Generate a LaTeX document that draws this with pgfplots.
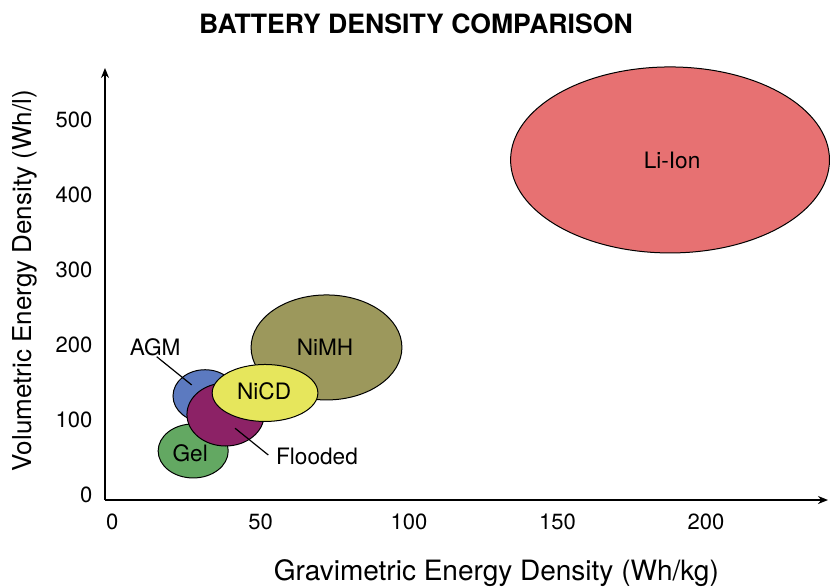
\documentclass[border=0pt]{standalone}
\usepackage{fontspec}
\setmainfont{TeX Gyre Heros}
\usepackage{pgfplots}
\usepackage{pgfplotstable}
\pgfplotsset{compat=1.18}
\usetikzlibrary{arrows.meta}

\definecolor{liion}{RGB}{231,113,114}
\definecolor{nimh}{RGB}{156,152,92}
\definecolor{nicd}{RGB}{230,230,92}
\definecolor{agm}{RGB}{92,122,192}
\definecolor{flooded}{RGB}{140,34,102}
\definecolor{gel}{RGB}{99,168,98}

% centre (cx,cy), half-widths (rx,ry), label position (lx,ly)
\pgfplotstableread{
name    cx    cy    rx   ry   col     lx    ly
Li-Ion  187.9 446.7 53.7 124  liion   188.6 446.7
NiMH    72.2  196.7 25.4 70   nimh    71.7  197
Gel     27.3  58.7  11.8 36   gel     26.3  55
AGM     31.3  132   10.8 35   agm     14.5  197
Flooded 38.2  107.3 13   42   flooded 69    51
NiCD    51.5  136   17.8 38   nicd    51.2  138.7
}\batteries

\begin{document}
\begin{tikzpicture}
\begin{axis}[
  scale only axis,
  width=361.5pt, height=216pt,
  xmin=-2.4, xmax=241.1,
  ymin=-6.7, ymax=569.3,
  axis lines=left,
  axis line style={line width=1pt, -{Stealth[length=5pt,width=4pt]}},
  xtick={0,50,100,150,200},
  ytick={0,100,200,300,400,500},
  major tick length=0pt,
  tick style={draw=none},
  tick label style={font=\fontsize{11}{13}\selectfont},
  /pgf/number format/assume math mode=true,
  xticklabel style={yshift=-3.5pt},
  yticklabel style={xshift=-2.8pt},
  clip=false,
  title={\textbf{BATTERY DENSITY COMPARISON}},
  every axis title/.style={font=\fontsize{13.3}{15}\selectfont, at={(axis description cs:0.430,1.102)}, anchor=center},
  xlabel={Gravimetric Energy Density (Wh/kg)},
  xlabel style={font=\fontsize{14}{16}\selectfont, at={(axis description cs:0.5413,-0.169)}, anchor=center},
  ylabel={Volumetric Energy Density (Wh/l)},
  ylabel style={font=\fontsize{13}{15}\selectfont, at={(axis description cs:-0.1107,0.508)}, anchor=center},
]
\pgfplotsforeachungrouped \i in {0,...,5}{%
  \pgfplotstablegetelem{\i}{cx}\of\batteries \let\cx\pgfplotsretval
  \pgfplotstablegetelem{\i}{cy}\of\batteries \let\cy\pgfplotsretval
  \pgfplotstablegetelem{\i}{rx}\of\batteries \let\rx\pgfplotsretval
  \pgfplotstablegetelem{\i}{ry}\of\batteries \let\ry\pgfplotsretval
  \pgfplotstablegetelem{\i}{col}\of\batteries \let\col\pgfplotsretval
  \edef\next{\noexpand\draw[fill=\col, draw=black, line width=0.5pt]
    (axis cs:\cx,\cy) ellipse [x radius=\rx, y radius=\ry];}%
  \next
}
% leader lines
\draw[line width=0.6pt] (axis cs:15.0,184.4) -- (axis cs:26.8,146.7);
\draw[line width=0.6pt] (axis cs:41.4,89) -- (axis cs:52.6,53.3);
\pgfplotsforeachungrouped \i in {0,...,5}{%
  \pgfplotstablegetelem{\i}{name}\of\batteries \let\nm\pgfplotsretval
  \pgfplotstablegetelem{\i}{lx}\of\batteries \let\lx\pgfplotsretval
  \pgfplotstablegetelem{\i}{ly}\of\batteries \let\ly\pgfplotsretval
  \edef\next{\noexpand\node[font=\noexpand\fontsize{11.3}{13}\noexpand\selectfont] at (axis cs:\lx,\ly) {\nm};}%
  \next
}
\end{axis}
\pgfresetboundingbox
\path[use as bounding box] (current axis.south west) ++(-52.5pt,-43pt) rectangle ++(415pt,293pt);
\end{tikzpicture}
\end{document}
